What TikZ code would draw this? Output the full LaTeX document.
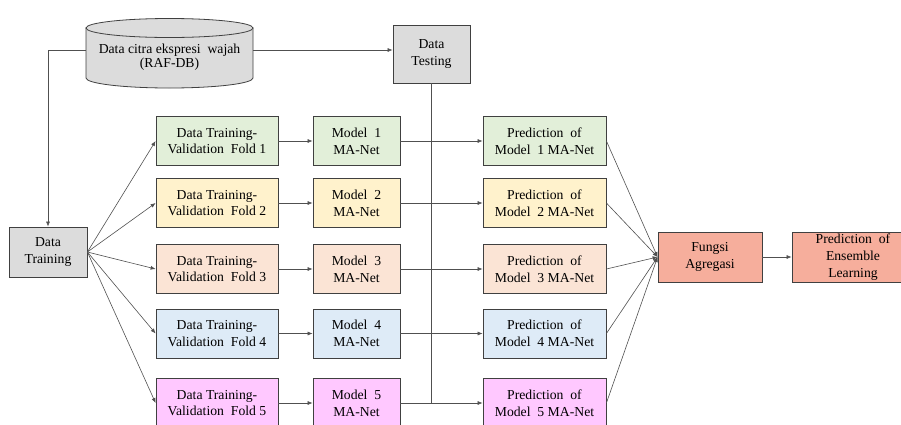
\documentclass[tikz,border=0pt]{standalone}
\usepackage{fontspec}
\setmainfont{Liberation Serif}
\usetikzlibrary{arrows.meta}
\definecolor{cgrey}{HTML}{DCDCDC}
\definecolor{cgreen}{HTML}{E2EFD9}
\definecolor{cyellow}{HTML}{FFF2CC}
\definecolor{cpeach}{HTML}{FBE4D5}
\definecolor{cblue}{HTML}{DEEBF7}
\definecolor{cpink}{HTML}{FFC8FF}
\definecolor{csalmon}{HTML}{F6AE9C}
\definecolor{cborder}{HTML}{404040}
\definecolor{cline}{HTML}{505050}
\tikzset{
  box/.style={draw=cborder, line width=0.8pt, align=center, inner sep=0pt,
    minimum height=49pt, font=\fontsize{13.7}{16.7}\selectfont},
  foldbox/.style={box, minimum width=122pt},
  modelbox/.style={box, minimum width=87pt},
  predbox/.style={box, minimum width=123pt},
  conn/.style={draw=cline, line width=0.6pt},
  arr/.style={conn, -{Latex[length=5pt,width=4pt]}},
}
\begin{document}
\begin{tikzpicture}[x=1pt,y=-1pt]
\useasboundingbox (0,0) rectangle (901,424);
\clip (0,0) rectangle (901,424);
% cylinder
\path[draw=cborder, line width=0.8pt, fill=cgrey] (86,28) -- (86,78)
  arc[start angle=180, end angle=0, x radius=83.5, y radius=10] -- (253,28) -- cycle;
\draw[cborder, line width=0.8pt, fill=cgrey] (169.5,28) ellipse [x radius=83.5, y radius=9.5];
\node[align=center, inner sep=0pt, font=\fontsize{13.7}{14}\selectfont] (db) at (169.5,57.5)
  {Data citra ekspresi \ wajah\\(RAF-DB)};
\coordinate (dbl) at (86,50);
\coordinate (dbr) at (253,50);
\coordinate (corner) at (48,50);

\node[box, fill=cgrey, minimum width=78pt, minimum height=50pt] (train) at (48,252) {Data\\Training};
\node[box, fill=cgrey, minimum width=77pt, minimum height=58pt] (test) at (431.5,54) {Data\\Testing};

% rows
\foreach \i/\y/\c in {1/141/cgreen, 2/203/cyellow, 3/269/cpeach, 4/333.5/cblue, 5/403/cpink}{
  \node[foldbox, fill=\c] (fold\i) at (217,\y) {Data Training-\\Validation \ Fold \i};
  \node[modelbox, fill=\c] (model\i) at (356.5,\y) {Model \ \i\\MA-Net};
  \node[predbox, fill=\c] (pred\i) at (544.5,\y) {Prediction \ of\\Model \ \i\ MA-Net};
}
\node[box, fill=csalmon, minimum width=104pt, minimum height=50pt] (fungsi) at (710,257) {Fungsi\\Agregasi};
\node[box, fill=csalmon, minimum width=122pt, minimum height=50pt, font=\fontsize{13.7}{17}\selectfont] (ens) at (853,257) {Prediction \ of\\Ensemble\\Learning};

% connectors
\draw[arr] (dbl) -- (corner) -- (train.north);
\draw[arr] (dbr) -- (test.west |- dbr);
\coordinate (vbot) at (test.south |- model5.east);
\draw[conn] (test.south) -- (vbot);
\foreach \i in {1,...,5}{
  \draw[arr] (train.east) -- (fold\i.west);
  \draw[arr] (fold\i.east) -- (model\i.west);
  \draw[arr] (model\i.east) -- (pred\i.west);
  \draw[arr] (pred\i.east) -- (fungsi.west);
}
\draw[arr] (fungsi.east) -- (ens.west);
\end{tikzpicture}
\end{document}
